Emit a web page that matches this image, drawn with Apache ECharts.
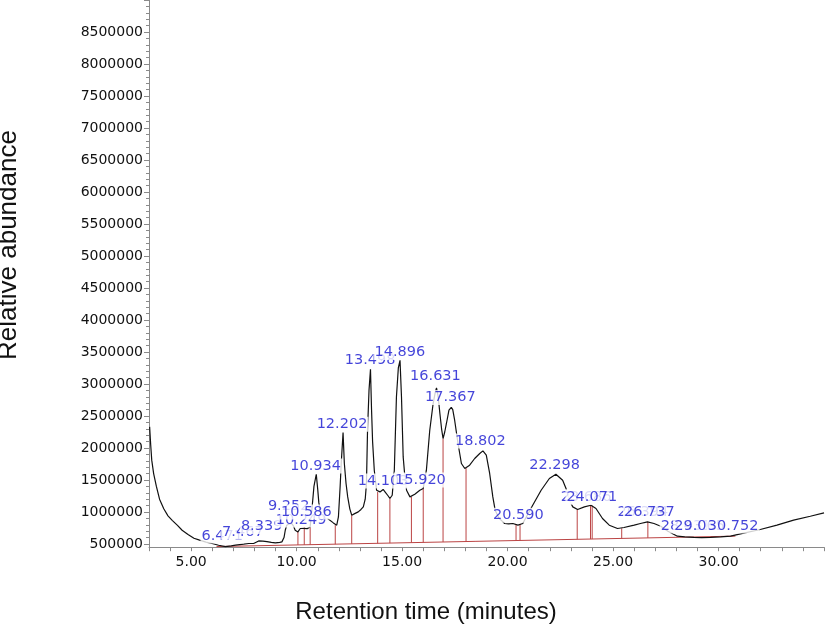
<!DOCTYPE html>
<html>
<head>
<meta charset="utf-8">
<script src="https://cdn.jsdelivr.net/npm/echarts@6/dist/echarts.min.js"></script>
<style>
html,body{margin:0;padding:0;background:#fff;}
#chart{width:827px;height:625px;}
</style>
</head>
<body>
<div id="chart"></div>
<script>
// ---- data ----
const traceTime = [3.03,3.08,3.13,3.22,3.35,3.50,3.70,3.90,4.10,4.35,4.57,4.85,5.13,5.40,5.70,5.99,6.30,6.62,6.90,7.10,7.40,7.73,7.96,8.20,8.40,8.59,8.80,8.99,9.20,9.30,9.40,9.46,9.53,9.65,9.77,9.85,9.93,10.06,10.17,10.24,10.33,10.41,10.50,10.56,10.64,10.72,10.82,10.93,11.00,11.05,11.11,11.20,11.35,11.50,11.59,11.74,11.83,11.90,11.98,12.06,12.12,12.20,12.26,12.34,12.42,12.52,12.61,12.75,12.92,13.05,13.16,13.25,13.31,13.36,13.43,13.50,13.55,13.60,13.68,13.79,13.87,13.95,14.03,14.10,14.18,14.26,14.34,14.42,14.53,14.63,14.73,14.82,14.90,14.97,15.05,15.13,15.21,15.37,15.44,15.60,15.84,16.00,16.15,16.31,16.47,16.57,16.63,16.71,16.79,16.87,16.94,17.02,17.10,17.22,17.33,17.40,17.49,17.65,17.81,17.97,18.20,18.44,18.68,18.83,18.99,19.15,19.30,19.41,19.60,19.86,20.05,20.25,20.49,20.72,20.95,21.19,21.59,21.98,22.29,22.61,22.77,22.93,23.09,23.32,23.64,23.95,24.19,24.50,24.82,25.21,25.52,26.00,26.30,26.63,26.94,27.26,27.60,28.05,28.40,28.83,29.20,29.62,30.10,30.57,31.20,31.98,32.77,33.56,34.35,35.00];
const traceValue = [2330000,2050000,1810000,1600000,1400000,1200000,1050000,940000,870000,790000,715000,650000,590000,560000,530000,508000,480000,460000,470000,481000,495000,508000,508000,548000,545000,536000,525000,517000,525000,533000,600000,715000,794000,815000,820000,780000,715000,689000,742000,715000,745000,758000,740000,715000,767000,1028000,1400000,1590000,1350000,1150000,1028000,950000,903000,890000,883000,830000,800000,794000,923000,1392000,1800000,2240000,1762000,1450000,1236000,1050000,950000,975000,1002000,1040000,1080000,1200000,1450000,2278000,2900000,3231000,2600000,2100000,1653000,1340000,1310000,1314000,1340000,1352000,1320000,1289000,1250000,1211000,1262000,1653000,2798000,3250000,3370000,2798000,1861000,1550000,1340000,1236000,1236000,1278000,1340000,1367000,1653000,2278000,2695000,2870000,2940000,2798000,2539000,2300000,2148000,2250000,2383000,2591000,2636000,2600000,2434000,2070000,1758000,1680000,1731000,1836000,1914000,1955000,1887000,1602000,1236000,1028000,900000,820000,815000,820000,794000,820000,960000,1106000,1340000,1523000,1590000,1497000,1367000,1184000,1080000,1039000,1080000,1106000,1055000,898000,794000,742000,758000,794000,820000,845000,820000,778000,700000,622000,610000,602000,600000,602000,610000,622000,670000,727000,794000,872000,934000,986000];

// integration baseline (red)
const baselineTime = [6.2, 30.8];
const baselineValue = [460000, 623000];

// integration boundary stems (red)
const stemTime = [10.06,10.36,10.64,11.83,12.61,13.84,14.42,15.44,16.00,16.94,18.03,20.40,20.59,23.30,23.93,24.01,25.41,26.65];
const stemTop  = [689000,767000,767000,794000,950000,1314000,1211000,1236000,1367000,2148000,1684000,810000,805000,1040000,1100000,1100000,745000,845000];
const stemBase = [485000,487000,489000,497000,502000,510000,514000,521000,525000,531000,538000,554000,555000,573000,577000,577000,587000,595000];

// peak labels (drawn in this order, later ones on top)
const peakNames  = ["6.471","7.467","8.339","9.252","10.249","10.586","10.934","12.202","14.103","13.498","14.896","15.920","16.631","17.367","18.802","20.590","22.298","23.686","24.071","26.394","26.737","28.431","29.065","30.752"];
const peakTimes  = [6.47,7.45,8.34,9.62,10.21,10.46,10.90,12.15,14.10,13.48,14.89,15.87,16.58,17.29,18.71,20.51,22.23,23.72,23.99,26.41,26.72,28.46,29.10,30.69];
const peakValues = [484000,542000,631000,953000,734000,859000,1578000,2230000,1344000,3230000,3350000,1359000,2975000,2647000,1969000,808000,1589000,1094000,1094000,859000,859000,640000,640000,640000];

// axis ticks
const xMin = 3, xMax = 35, xStep = 1, xLabelEvery = 5;
const yMin = 450000, yMax = 9000000, yLabelMin = 500000, yStep = 500000;

// ---- build ----
const traceData = traceTime.map((t, i) => [t, traceValue[i]]);
const baseData = baselineTime.map((t, i) => [t, baselineValue[i]]);
const stemData = [];
stemTime.forEach((t, i) => { stemData.push([t, stemBase[i]], [t, stemTop[i]], '-'); });
const labelData = peakNames.map((n, i) => ({ name: n, value: [peakTimes[i], peakValues[i]] }));

const axisGray = '#8a8a8a';
const red = '#bb4444';

const chart = echarts.init(document.getElementById('chart'), null, { renderer: 'canvas' });
chart.setOption({
  animation: false,
  backgroundColor: '#ffffff',
  grid: [
    { left: 149, right: 0, top: 0, bottom: 77.8 },
    { left: 149, right: 0, top: 0, bottom: 81 }
  ],
  xAxis: [
    {
      gridIndex: 0, type: 'value', min: xMin, max: xMax, interval: xStep,
      axisLine: { show: true, onZero: false, lineStyle: { color: axisGray, width: 1 } },
      axisTick: { show: true, length: 4, lineStyle: { color: axisGray } },
      axisLabel: {
        margin: 8, fontFamily: 'DejaVu Sans', fontSize: 14, color: '#111',
        showMinLabel: true, showMaxLabel: true,
        formatter: v => (Math.round(v) % xLabelEvery === 0 && v < xMax) ? v.toFixed(2) : ''
      },
      splitLine: { show: false }
    },
    { gridIndex: 1, type: 'value', min: xMin, max: xMax, show: false }
  ],
  yAxis: [
    {
      gridIndex: 0, type: 'value', min: yMin, max: yMax,
      axisLine: { show: true, onZero: false, lineStyle: { color: axisGray, width: 1 } },
      axisTick: { show: false }, axisLabel: { show: false }, splitLine: { show: false }
    },
    {
      gridIndex: 1, type: 'value', min: yLabelMin, max: yMax, interval: yStep,
      axisLine: { show: false },
      axisTick: { show: true, length: 5, lineStyle: { color: axisGray } },
      minorTick: { show: true, splitNumber: 5, length: 3, lineStyle: { color: axisGray } },
      axisLabel: {
        margin: 6, fontFamily: 'DejaVu Sans', fontSize: 14, color: '#111',
        formatter: v => (v < yMax) ? String(v) : ''
      },
      splitLine: { show: false }, minorSplitLine: { show: false }
    }
  ],
  series: [
    {
      type: 'line', xAxisIndex: 0, yAxisIndex: 0, data: traceData,
      showSymbol: false, symbol: 'none', smooth: false,
      lineStyle: { color: '#111111', width: 1.2 }, z: 3
    },
    {
      type: 'line', xAxisIndex: 0, yAxisIndex: 0, data: baseData,
      showSymbol: false, symbol: 'none',
      lineStyle: { color: red, width: 1 }, z: 2
    },
    {
      type: 'line', xAxisIndex: 0, yAxisIndex: 0, data: stemData,
      showSymbol: false, symbol: 'none', connectNulls: false,
      lineStyle: { color: red, width: 1 }, z: 2
    },
    {
      type: 'scatter', xAxisIndex: 0, yAxisIndex: 0, data: labelData,
      symbolSize: 1, itemStyle: { color: 'rgba(0,0,0,0)' }, z: 10,
      label: {
        show: true, position: 'top', distance: 1, formatter: '{b}',
        fontFamily: 'DejaVu Sans', fontSize: 14.5, lineHeight: 15, color: '#1515d0',
        backgroundColor: '#ffffff', padding: [0, 1, 0, 1]
      },
      emphasis: { disabled: true }
    }
  ],
  graphic: [
    {
      type: 'text', x: 426, y: 612,
      style: { text: 'Retention time (minutes)', font: '24px "Liberation Sans", Arial, sans-serif', fill: '#111', align: 'center', verticalAlign: 'middle' }
    },
    {
      type: 'text', x: 9, y: 245, rotation: Math.PI / 2,
      style: { text: 'Relative abundance', font: '26px "Liberation Sans", Arial, sans-serif', fill: '#111', align: 'center', verticalAlign: 'middle' }
    }
  ]
});
</script>
</body>
</html>
